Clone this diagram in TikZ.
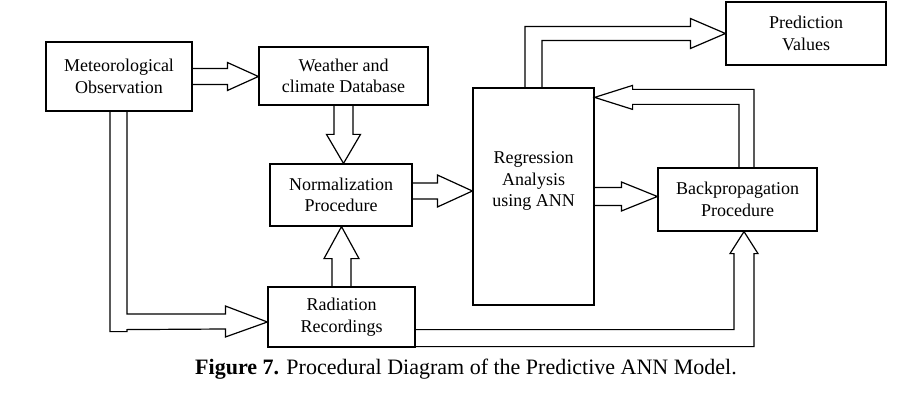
\documentclass[tikz,border=0pt]{standalone}
\usepackage{fontspec}
\setmainfont{Liberation Serif}
\usetikzlibrary{calc}
% straight block arrows: start, target, shaft half width, head half width, head length
\newcommand{\hblk}[5]{\draw[blk] ($(#1)+(0,-#3)$) -- ($(#2 |- #1)+({-(#5)},-#3)$) -- ($(#2 |- #1)+({-(#5)},-#4)$) -- (#2 |- #1) -- ($(#2 |- #1)+({-(#5)},#4)$) -- ($(#2 |- #1)+({-(#5)},#3)$) -- ($(#1)+(0,#3)$);}
\newcommand{\vblk}[5]{\draw[blk] ($(#1)+(-#3,0)$) -- ($(#1 |- #2)+(-#3,{-(#5)})$) -- ($(#1 |- #2)+(-#4,{-(#5)})$) -- (#1 |- #2) -- ($(#1 |- #2)+(#4,{-(#5)})$) -- ($(#1 |- #2)+(#3,{-(#5)})$) -- ($(#1)+(#3,0)$);}
\begin{document}
\begin{tikzpicture}[x=1pt,y=-1pt,
    box/.style={draw,line width=1.2pt,align=center,inner sep=0pt,font=\fontsize{18}{21.5}\selectfont},
    blk/.style={line width=1.2pt,line join=miter}]
    \useasboundingbox (0,0) rectangle (912,406);
    \node[box,minimum width=146pt,minimum height=69pt] (met) at (119,76.5) {Meteorological\\Observation};
    \node[box,minimum width=169pt,minimum height=58pt] (wea) at (343.5,76) {Weather and\\climate Database};
    \node[box,minimum width=142pt,minimum height=62pt] (norm) at (341,195) {Normalization\\Procedure};
    \node[box,minimum width=147pt,minimum height=60pt] (rad) at (341.5,317) {Radiation\\Recordings};
    \node[box,minimum width=121pt,minimum height=217pt] (reg) at (533.5,196.5) {};
    \node[align=center,font=\fontsize{18}{21.5}\selectfont] (regtxt) at (533.5,181) {Regression\\Analysis\\using ANN};
    \node[box,minimum width=160pt,minimum height=63pt] (pred) at (806,33.5) {Prediction\\Values};
    \node[box,minimum width=159pt,minimum height=63pt] (bp) at (737.5,199.5) {Backpropagation\\Procedure};
    % straight arrows
    \hblk{met.east}{wea.west}{8}{14}{31}
    \vblk{wea.south}{norm.north}{9.5}{17}{29}
    \coordinate (n2r) at ($(norm.east)+(0,-4)$);
    \hblk{n2r}{reg.west}{8}{16}{35}
    \hblk{reg.east}{bp.west}{9}{14.5}{36}
    \vblk{rad.north}{norm.south}{9.5}{17.5}{-32}
    % bent arrows
    \draw[blk] ($(reg.north)+(-8.5,0)$) |- ($(pred.west)+(-35,-7)$) -- ++(0,-8) -- (pred.west) -- ++(-35,15) -- ++(0,-8) -| ($(reg.north)+(8.5,0)$);
    \draw[blk] ($(bp.north)+(1.5,0)$) |- ($(reg.north east)+(38,17)$) -- ++(0,5) -- ($(reg.north east)+(0,10)$) -- ++(38,-12) -- ++(0,4) -| ($(bp.north)+(16.5,0)$);
    \draw[blk] ($(met.south)+(-9,0)$) -- ++(0,220) -- ++(17,0) -- ++(0,-2) -- ($(rad.west)+(-42,12)$) -- ++(0,8) -- ($(rad.west)+(0,5)$) -- ++(-42,-16) -- ++(0,8) -| ($(met.south)+(8,0)$);
    \draw[blk] ($(rad.south east)+(0,-18)$) -| ($(bp.south)+(-3.5,22)$) -- ++(-4,0) -- ($(bp.south)+(6.5,0)$) -- ++(14,22) -- ++(-4,0) |- ($(rad.south east)+(0,-1)$);
    \node[font=\fontsize{22}{25}\selectfont] (cap) at (466,369) {\textbf{Figure 7.} Procedural Diagram of the Predictive ANN Model.};
\end{tikzpicture}
\end{document}
